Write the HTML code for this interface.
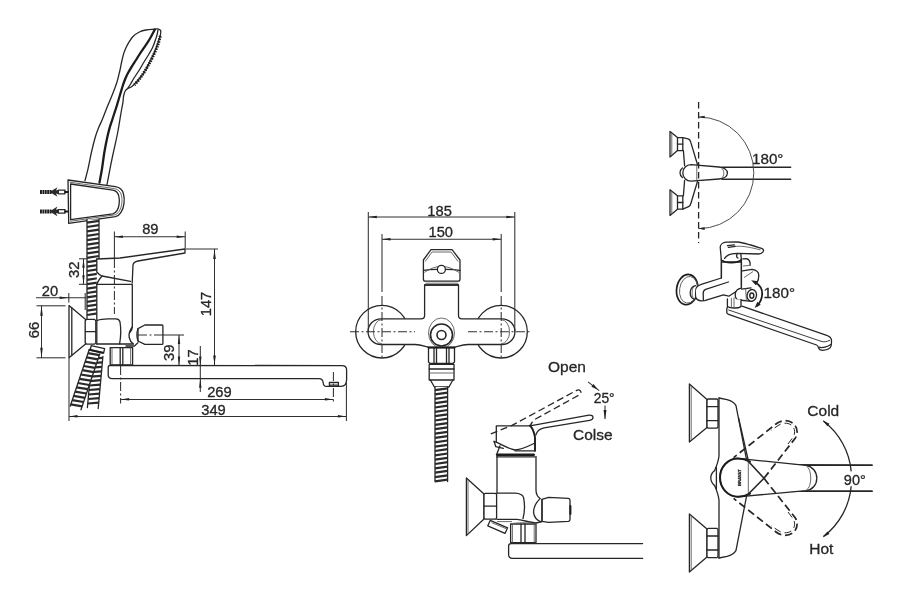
<!DOCTYPE html>
<html><head><meta charset="utf-8"><title>Faucet dimensions</title>
<style>
html,body{margin:0;padding:0;background:#fff;}
body{width:899px;height:600px;overflow:hidden;}
svg{display:block;filter:blur(0.45px);}
.l{fill:none;stroke:#262626;stroke-width:1.3;stroke-linecap:round;stroke-linejoin:round;}
.lw{fill:#fff;stroke:#262626;stroke-width:1.3;stroke-linecap:round;stroke-linejoin:round;}
.k{fill:none;stroke:#1c1c1c;stroke-width:2;stroke-linecap:round;stroke-linejoin:round;}
.t{fill:none;stroke:#303030;stroke-width:1.05;}
.g{fill:none;stroke:#5a5a5a;stroke-width:0.9;}
.d{fill:none;stroke:#303030;stroke-width:1.05;stroke-dasharray:9 2.5 2 2.5;}
.ds{fill:none;stroke:#262626;stroke-width:1.3;stroke-dasharray:6.5 3.5;}
.af{fill:#222;stroke:none;}
.fill{fill:#2a2a2a;stroke:none;}
text{font-family:"Liberation Sans",sans-serif;fill:#262626;stroke:#262626;stroke-width:0.3px;}
</style></head><body>
<svg width="899" height="600" viewBox="0 0 899 600">
<rect x="0" y="0" width="899" height="600" fill="#ffffff"/>
<g id="side-view">
<path class="l" d="M153.0,29.3 C151.8,29.4 148.3,29.6 146.0,30.0 C143.7,30.4 141.6,30.9 139.4,32.0 C137.2,33.1 134.8,34.7 133.0,36.5 C131.2,38.3 130.0,40.6 128.7,42.7 C127.4,44.8 126.3,47.0 125.4,49.0 C124.5,51.0 124.0,52.5 123.4,54.7 C122.8,56.9 122.2,59.5 121.6,62.0 C121.0,64.5 120.8,66.7 120.0,70.0 C119.2,73.3 118.2,78.2 117.0,82.0 C115.8,85.8 114.5,89.2 113.0,93.0 C111.5,96.8 109.8,100.7 108.0,105.0 C106.2,109.3 104.1,115.2 102.5,119.0 C100.9,122.8 99.7,125.0 98.5,128.0 C97.3,130.9 96.6,132.7 95.4,136.7 C94.2,140.7 92.7,146.7 91.5,152.0 C90.3,157.3 89.1,164.1 88.0,168.8 C86.9,173.6 85.5,178.6 85.0,180.5"/>
<path class="l" d="M153.0,29.3 C153.8,29.2 156.2,28.7 157.5,28.9 C158.8,29.1 160.1,29.4 160.6,30.4 C161.1,31.4 160.8,33.0 160.4,35.0 C160.0,37.0 159.0,39.9 158.0,42.7 C157.0,45.5 155.8,48.9 154.5,52.0 C153.2,55.1 151.6,58.2 150.0,61.4 C148.4,64.6 146.8,68.1 145.0,71.0 C143.2,73.9 140.9,76.8 139.4,78.7 C137.9,80.6 137.3,81.1 136.0,82.4 C134.7,83.8 133.0,85.8 131.6,86.8 C130.2,87.8 128.7,87.9 127.6,88.6 C126.5,89.3 125.9,89.8 125.2,91.0 C124.5,92.2 124.0,94.2 123.6,96.0 C123.2,97.8 123.3,99.7 123.0,102.0 C122.7,104.3 122.0,107.2 121.5,110.0 C121.0,112.8 120.6,115.3 120.0,119.0 C119.4,122.7 118.6,127.9 117.8,132.0 C117.0,136.1 116.3,139.4 115.4,143.4 C114.5,147.4 113.5,151.8 112.6,156.0 C111.7,160.2 110.9,164.1 110.0,168.8 C109.1,173.6 107.5,181.9 107.0,184.5"/>
<path class="l" d="M158.0,30.0 C157.8,30.8 157.4,33.3 157.0,35.0 C156.6,36.7 156.1,37.9 155.4,40.0 C154.7,42.1 153.7,45.2 152.6,47.5 C151.5,49.8 150.4,51.6 149.0,54.0 C147.6,56.4 145.7,59.2 144.0,62.0 C142.3,64.8 140.7,67.8 139.0,70.5 C137.3,73.2 135.4,75.8 134.0,78.0 C132.6,80.2 131.6,82.3 130.6,84.0 C129.6,85.7 128.3,87.5 127.8,88.2"/>
<path class="k" d="M160.4,36.0 C160.0,37.4 159.0,41.5 158.0,44.4 C157.0,47.3 155.6,50.6 154.2,53.6 C152.8,56.6 151.4,59.7 149.8,62.6 C148.2,65.5 146.5,68.5 144.8,71.2 C143.1,73.9 141.5,76.3 139.8,78.6 C138.1,80.9 135.3,83.9 134.4,85.0" style="stroke-dasharray:1.5 1.1;stroke-width:3;stroke-linecap:butt"/>
<path class="k" d="M154.8,29.6 C154.0,31.1 151.7,35.6 150.0,38.5 C148.3,41.4 146.5,44.2 144.8,46.7 C143.1,49.2 141.5,51.4 140.0,53.6 C138.5,55.8 137.4,57.8 136.0,60.0 C134.6,62.2 132.9,64.6 131.6,66.8 C130.3,69.0 129.1,71.0 128.0,73.0 C126.9,75.0 126.0,77.0 125.2,79.0 C124.4,81.0 123.9,82.3 123.0,85.0 C122.1,87.7 121.0,91.7 120.0,95.0 C119.0,98.3 118.2,101.0 117.0,105.0 C115.8,109.0 113.7,115.2 112.5,119.0 C111.3,122.8 110.4,125.0 109.6,128.0 C108.8,130.9 108.3,132.7 107.4,136.7 C106.5,140.7 105.3,146.7 104.4,152.0 C103.5,157.3 102.8,163.7 102.0,168.8 C101.2,173.9 99.9,180.2 99.5,182.5" style="stroke-width:2.3"/>
<path class="lw" d="M68,180 L115.4,186.7 C119.5,187.4 122.6,190 123.5,194 C124.3,197 124.4,200.5 124,203.4 C123.6,207 122.6,210.3 120.8,212.7 C119.5,214.8 117.5,216.2 115.4,216.7 L68.7,223.4 Z"/>
<path class="g" d="M69.6,182.2 L114.4,188.6 C118,189.2 120.6,191.6 121.4,195.2 C122,198 122.2,200.8 121.8,203.4 C121.4,206.6 120.5,209.4 119,211.5 C117.9,213.3 116.2,214.5 114.4,214.9 L70,221.3"/>
<path class="l" d="M70.6,184 L112.8,190.2 C116,190.8 118.3,193 118.9,196.7 C119.4,199 119.4,201.5 119.2,203.6 C118.9,206.3 118.2,208.8 117,210.6 C116,212.2 114.5,213.3 112.8,213.8 L70.6,219.6 Z"/>
<path class="k" d="M40,192 L52,192" style="stroke-width:4;stroke-dasharray:1.9 0.5;stroke-linecap:butt"/>
<polygon class="fill" points="49.6,192 57.4,187.2 56,190.4 59,189.6 59,194.4 56,193.6 57.4,196.8"/>
<path class="l" d="M59,190.2 L65,190.2 L65,193.8 L59,193.8"/>
<path class="k" d="M65,192 L68,192" style="stroke-width:2"/>
<path class="k" d="M40,211.4 L52,211.4" style="stroke-width:4;stroke-dasharray:1.9 0.5;stroke-linecap:butt"/>
<polygon class="fill" points="49.6,211.4 57.4,206.6 56,209.8 59,209.0 59,213.8 56,213.0 57.4,216.20000000000002"/>
<path class="l" d="M59,209.6 L65,209.6 L65,213.20000000000002 L59,213.20000000000002"/>
<path class="k" d="M65,211.4 L68,211.4" style="stroke-width:2"/>
<polygon fill="#fff" stroke="none" points="87.0,219.5 87.0,318.5 99.0,318.5 99.0,219.5"/>
<line class="l" x1="87.0" y1="219.5" x2="87.0" y2="318.5"/>
<line class="l" x1="99.0" y1="219.5" x2="99.0" y2="318.5"/>
<path d="M87.0,222.6L99.0,220.8M87.0,227.0L99.0,225.2M87.0,231.4L99.0,229.6M87.0,235.8L99.0,234.0M87.0,240.2L99.0,238.4M87.0,244.6L99.0,242.8M87.0,249.0L99.0,247.2M87.0,253.4L99.0,251.6M87.0,257.8L99.0,256.0M87.0,262.2L99.0,260.4M87.0,266.6L99.0,264.8M87.0,271.0L99.0,269.2M87.0,275.4L99.0,273.6M87.0,279.8L99.0,278.0M87.0,284.2L99.0,282.4M87.0,288.6L99.0,286.8M87.0,293.0L99.0,291.2M87.0,297.4L99.0,295.6M87.0,301.8L99.0,300.0M87.0,306.2L99.0,304.4M87.0,310.6L99.0,308.8M87.0,315.0L99.0,313.2" fill="none" stroke="#2a2a2a" stroke-width="2.2"/>
<polygon fill="#fff" stroke="none" points="92.1,355.5 87.4,407.5 98.2,408.5 102.9,356.5"/>
<line class="l" x1="92.1" y1="355.5" x2="87.4" y2="407.5"/>
<line class="l" x1="102.9" y1="356.5" x2="98.2" y2="408.5"/>
<path d="M91.8,358.7L102.8,357.8M91.4,363.1L102.4,362.3M91.0,367.6L101.9,366.8M90.6,372.1L101.5,371.3M90.2,376.6L101.1,375.8M89.8,381.1L100.7,380.2M89.4,385.5L100.3,384.7M89.0,390.0L99.9,389.2M88.6,394.5L99.5,393.7M88.2,399.0L99.1,398.2M87.8,403.5L98.7,402.6" fill="none" stroke="#2a2a2a" stroke-width="2.2"/>
<polygon fill="#fff" stroke="none" points="89.0,350.2 70.2,406.2 81.0,409.8 99.8,353.8"/>
<line class="l" x1="89.0" y1="350.2" x2="70.2" y2="406.2"/>
<line class="l" x1="99.8" y1="353.8" x2="81.0" y2="409.8"/>
<path d="M88.0,353.2L99.4,355.1M86.6,357.4L97.9,359.4M85.1,361.7L96.5,363.6M83.7,366.0L95.1,367.9M82.3,370.2L93.6,372.2M80.8,374.5L92.2,376.4M79.4,378.8L90.8,380.7M78.0,383.0L89.3,385.0M76.5,387.3L87.9,389.2M75.1,391.6L86.5,393.5M73.7,395.8L85.1,397.8M72.2,400.1L83.6,402.0M70.8,404.4L82.2,406.3" fill="none" stroke="#2a2a2a" stroke-width="2.2"/>
<path class="lw" d="M91.2,345.6 L104.6,348.6 L103.6,353 L90.2,350 Z"/>
<path class="k" d="M89.4,349.8 L102.8,352.8"/>
<path class="lw" d="M69,305.6 L69,357.8 L85.6,344 L85.6,319.5 Z"/>
<line class="l" x1="71.8" y1="307.8" x2="71.8" y2="355.6"/>
<path class="lw" d="M86.6,319.4 L94.6,319.4 L95.8,320.8 L95.8,342.8 L94.6,344.2 L86.6,344.2 L85.2,342.8 L85.2,320.8 Z"/>
<line class="l" x1="85.4" y1="331.6" x2="95.8" y2="331.6"/>
<path d="M96.8,258.8 L120,258 L185,249 L185,253 L138,261 L133,265 L132.6,344 L96.8,344 Z" fill="#fff" stroke="none"/>
<path class="l" d="M96.8,259 L120,258 L185,249 L185,253 L138,261 C135,261.6 133.2,263 133,265 L132.2,283"/>
<path class="l" d="M96.8,259 L96.8,272 C98.5,274 100.5,275.5 102,276 L130.5,281.4"/>
<path class="l" d="M102,276 C99.5,279 97.6,281.5 96.8,284.4 L131.5,284.4"/>
<path class="l" d="M96.8,284.4 L96.8,344"/>
<path class="l" d="M132.3,284.4 L132.3,327 C132.3,329 131.5,330.5 130.2,332"/>
<path class="l" d="M97.4,320.4 C100,319.2 104,318.8 108,318.8 L116,318.8 C118.4,319 119.6,320 120,322 C121,328 121,336 119.6,343.8"/>
<path class="l" d="M96.8,344 L133,344"/>
<path class="l" d="M126,346 L134.5,346 L138,342.6"/>
<path class="l" d="M132.3,327 C129.6,330.5 128.6,334 129.2,337.5 C129.8,340.5 131.4,342.6 133.4,344"/>
<path class="lw" d="M138,328.6 L144.8,325 L162,325 C162.6,325 162.9,325.4 162.9,326 L162.9,343.4 C162.9,344 162.6,344.4 162,344.4 L144.8,344.4 L138,341 Z"/>
<path class="l" d="M138,328.6 C136.8,332 136.8,337.6 138,341"/>
<path class="lw" d="M110.2,347.6 L132.6,347.6 L132.6,364.8 L110.2,364.8 Z"/>
<line class="l" x1="120.2" y1="347.6" x2="120.2" y2="364.8"/>
<line class="l" x1="122.8" y1="347.6" x2="122.8" y2="364.8"/>
<line class="g" x1="130.6" y1="347.6" x2="130.6" y2="364.8"/>
<line class="g" x1="112" y1="347.6" x2="112" y2="364.8"/>
<path class="lw" d="M110,365.4 L342,365.6 C345,365.6 346.6,367.2 346.6,370 L346.6,379.5 C346.6,383.5 344.6,386.4 341,386.4 L326.4,386.4 C324.4,386.4 323.4,385 323.2,383 C323,380.6 321.6,378.7 319,378.7 L112,378.6 C109.4,378.6 108.2,377.2 108.2,374.8 L108.2,367.6 C108.2,366 108.8,365.4 110,365.4 Z"/>
<path class="l" d="M329.4,382.4 L338.4,382.4 L338.4,385.8 L329.4,385.8 Z"/>
<line class="g" x1="329.4" y1="384.2" x2="338.4" y2="384.2"/>
<line class="t" x1="114.4" y1="231.5" x2="114.4" y2="259"/>
<line class="d" x1="114.4" y1="259" x2="114.4" y2="314"/>
<line class="t" x1="185.2" y1="231.5" x2="185.2" y2="248.5"/>
<line class="t" x1="114.4" y1="236.7" x2="185.2" y2="236.7"/>
<polygon class="af" points="114.4,236.7 122.9,235.4 122.9,237.9"/>
<polygon class="af" points="185.2,236.7 176.7,237.9 176.7,235.4"/>
<text x="150.3" y="233.8" font-size="14.7" text-anchor="middle">89</text>
<line class="t" x1="79" y1="258.8" x2="87" y2="258.8"/>
<line class="t" x1="79" y1="284.3" x2="87" y2="284.3"/>
<line class="t" x1="83.5" y1="258.8" x2="83.5" y2="284.3"/>
<polygon class="af" points="83.5,258.8 84.7,267.8 82.3,267.8"/>
<polygon class="af" points="83.5,284.3 82.3,275.3 84.7,275.3"/>
<text x="79.5" y="269.8" font-size="14.7" text-anchor="middle" transform="rotate(-90 79.5 269.8)">32</text>
<line class="t" x1="36" y1="297.8" x2="86" y2="297.8"/>
<polygon class="af" points="68.6,297.8 59.6,299.0 59.6,296.6"/>
<line class="t" x1="68.8" y1="293" x2="68.8" y2="302.5"/>
<line class="t" x1="85.2" y1="293" x2="85.2" y2="310"/>
<text x="50" y="296" font-size="14.7" text-anchor="middle">20</text>
<line class="t" x1="36.5" y1="305.8" x2="65.5" y2="305.8"/>
<line class="t" x1="36.5" y1="357.8" x2="65.5" y2="357.8"/>
<line class="t" x1="41.5" y1="305.8" x2="41.5" y2="357.8"/>
<polygon class="af" points="41.5,305.8 42.8,315.8 40.2,315.8"/>
<polygon class="af" points="41.5,357.8 40.2,347.8 42.8,347.8"/>
<text x="39" y="330" font-size="14.7" text-anchor="middle" transform="rotate(-90 39 330)">66</text>
<line class="t" x1="185.5" y1="249" x2="218" y2="249"/>
<line class="t" x1="214.5" y1="249" x2="214.5" y2="365.4"/>
<polygon class="af" points="214.5,249.0 215.8,259.0 213.2,259.0"/>
<polygon class="af" points="214.5,365.4 213.2,355.4 215.8,355.4"/>
<text x="211" y="304" font-size="14.7" text-anchor="middle" transform="rotate(-90 211 304)">147</text>
<line class="d" x1="138" y1="335" x2="163" y2="335"/>
<line class="t" x1="163" y1="335" x2="184" y2="335"/>
<line class="t" x1="179" y1="335" x2="179" y2="365.4"/>
<polygon class="af" points="179.0,335.0 180.2,344.0 177.8,344.0"/>
<polygon class="af" points="179.0,365.4 177.8,356.4 180.2,356.4"/>
<text x="174" y="352.8" font-size="14.7" text-anchor="middle" transform="rotate(-90 174 352.8)">39</text>
<line class="t" x1="200.3" y1="346" x2="200.3" y2="392"/>
<polygon class="af" points="200.3,365.4 199.1,356.4 201.5,356.4"/>
<polygon class="af" points="200.3,378.8 201.5,387.8 199.1,387.8"/>
<text x="198" y="357.5" font-size="14.7" text-anchor="middle" transform="rotate(-90 198 357.5)">17</text>
<line class="d" x1="120.6" y1="366" x2="120.6" y2="403.5"/>
<line class="d" x1="333.4" y1="372" x2="333.4" y2="403.5"/>
<line class="t" x1="120.6" y1="399.4" x2="333.4" y2="399.4"/>
<polygon class="af" points="120.6,399.4 129.1,398.1 129.1,400.6"/>
<polygon class="af" points="333.4,399.4 324.9,400.6 324.9,398.1"/>
<text x="219.4" y="397" font-size="14.7" text-anchor="middle">269</text>
<line class="t" x1="69" y1="358" x2="69" y2="421"/>
<line class="t" x1="346.4" y1="383" x2="346.4" y2="421"/>
<line class="t" x1="69" y1="416.4" x2="346.4" y2="416.4"/>
<polygon class="af" points="69.0,416.4 77.5,415.1 77.5,417.6"/>
<polygon class="af" points="346.4,416.4 337.9,417.6 337.9,415.1"/>
<text x="213.5" y="415" font-size="14.7" text-anchor="middle">349</text>
</g>
<g id="front-view">
<circle class="l" cx="382" cy="331.7" r="26.3"/>
<circle class="l" cx="501" cy="331.7" r="26.3"/>
<path class="lw" d="M424.6,285 L424.6,315.4 C424.6,317.6 423.4,318.8 421,318.8 L380.9,318.8 A12.85,12.85 0 0 0 380.9,344.5 L415,344.5 C421,344.7 425,346.4 430,347.4 L453,347.4 C458,346.4 462,344.7 468,344.5 L502.1,344.5 A12.85,12.85 0 0 0 502.1,318.8 L462,318.8 C459.6,318.8 458.5,317.6 458.5,315.4 L458.5,285 Z"/>
<path class="g" d="M382,319.6 A8.6,12.1 0 0 0 382,343.8"/>
<path class="g" d="M501,319.6 A8.6,12.1 0 0 1 501,343.8"/>
<path class="lw" d="M423.4,260 L431,249.6 L452,249.6 L460,260 L460,279 C460,280.4 459.2,281.2 458,281.2 L425.4,281.2 C424.2,281.2 423.4,280.4 423.4,279 Z"/>
<path class="g" d="M425.2,261.6 L432,252 L451,252 L458.2,261.6"/>
<line class="l" x1="424.6" y1="285" x2="458.5" y2="285"/>
<line class="g" x1="425.4" y1="283.2" x2="458.2" y2="283.2"/>
<path class="l" d="M423.4,270.4 C428,269.6 433,269.4 437.2,269.4 M445.6,269.4 C450,269.4 455,269.6 460,270.4"/>
<path class="g" d="M424.4,272.4 C430,268.5 436,266.4 441.4,266.2 C447,266.4 453,268.5 459,272.4"/>
<circle class="lw" cx="441.4" cy="269.4" r="4"/>
<ellipse class="g" cx="441.5" cy="333" rx="13" ry="15"/>
<circle class="lw" cx="441.5" cy="335" r="11" style="stroke-width:1.6"/>
<circle class="l" cx="441.5" cy="335" r="4.5" style="stroke-width:1.6"/>
<path class="lw" d="M428.5,347.6 L454.5,347.6 L454.5,362 L453,363.4 L430,363.4 L428.5,362 Z"/>
<line class="l" x1="434" y1="347.6" x2="434" y2="363.4"/>
<line class="l" x1="436.5" y1="347.6" x2="436.5" y2="363.4"/>
<line class="l" x1="446.5" y1="347.6" x2="446.5" y2="363.4"/>
<line class="l" x1="449" y1="347.6" x2="449" y2="363.4"/>
<line class="k" x1="428.5" y1="347.6" x2="454.5" y2="347.6"/>
<path class="lw" d="M429.2,364.4 L454,364.4 L454,380 L429.2,380 Z"/>
<line class="l" x1="429.2" y1="369" x2="454" y2="369"/>
<line class="g" x1="429.2" y1="373" x2="454" y2="373"/>
<path class="l" d="M430.4,380 L434.4,387 L449,387 L452.8,380"/>
<polygon fill="#fff" stroke="none" points="435.0,387.0 435.0,481.5 447.6,481.5 447.6,387.0"/>
<line class="l" x1="435.0" y1="387.0" x2="435.0" y2="481.5"/>
<line class="l" x1="447.6" y1="387.0" x2="447.6" y2="481.5"/>
<path d="M435.0,390.1L447.6,388.3M435.0,394.4L447.6,392.6M435.0,398.8L447.6,397.0M435.0,403.1L447.6,401.3M435.0,407.5L447.6,405.7M435.0,411.8L447.6,410.0M435.0,416.2L447.6,414.4M435.0,420.5L447.6,418.7M435.0,424.9L447.6,423.1M435.0,429.2L447.6,427.4M435.0,433.6L447.6,431.8M435.0,437.9L447.6,436.1M435.0,442.3L447.6,440.5M435.0,446.6L447.6,444.8M435.0,451.0L447.6,449.2M435.0,455.3L447.6,453.5M435.0,459.7L447.6,457.9M435.0,464.0L447.6,462.2M435.0,468.4L447.6,466.6M435.0,472.7L447.6,470.9M435.0,477.1L447.6,475.3M435.0,481.4L447.6,479.6" fill="none" stroke="#2a2a2a" stroke-width="2.2"/>
<line class="d" x1="350" y1="331.7" x2="415" y2="331.7"/>
<line class="d" x1="468" y1="331.7" x2="531" y2="331.7"/>
<line class="d" x1="382" y1="296" x2="382" y2="358"/>
<line class="d" x1="501.2" y1="296" x2="501.2" y2="358"/>
<line class="t" x1="368.3" y1="212" x2="368.3" y2="332"/>
<line class="t" x1="514.8" y1="212" x2="514.8" y2="332"/>
<line class="t" x1="368.3" y1="217" x2="514.8" y2="217"/>
<polygon class="af" points="368.3,217.0 376.8,215.8 376.8,218.2"/>
<polygon class="af" points="514.8,217.0 506.3,218.2 506.3,215.8"/>
<text x="439.6" y="215.6" font-size="14.7" text-anchor="middle">185</text>
<line class="t" x1="382" y1="234" x2="382" y2="292"/>
<line class="t" x1="501.2" y1="234" x2="501.2" y2="292"/>
<line class="t" x1="382" y1="239.2" x2="501.2" y2="239.2"/>
<polygon class="af" points="382.0,239.2 390.5,237.9 390.5,240.4"/>
<polygon class="af" points="501.2,239.2 492.7,240.4 492.7,237.9"/>
<text x="440.8" y="237.4" font-size="14.7" text-anchor="middle">150</text>
</g>
<g id="open-close">
<path class="l" d="M466.4,478 L466.4,535.6 L484,519 L484,494 Z"/>
<line class="g" x1="468" y1="479.6" x2="468" y2="534"/>
<path class="lw" d="M485,493.4 L495.6,493.4 L496.6,494.6 L496.6,518 L495.6,519.2 L485,519.2 L484,518 L484,494.6 Z"/>
<line class="l" x1="484" y1="506.2" x2="496.6" y2="506.2"/>
<path class="lw" d="M490.2,520.4 L507.6,527.8 L505,533.4 L487.8,525.8 Z"/>
<path class="g" d="M491.6,522.6 L506.4,528.8"/>
<line class="l" x1="497" y1="456.4" x2="497" y2="493.4"/>
<path class="l" d="M536,456.4 L536,490 C536,494 537.4,496.6 540,498.6"/>
<path class="l" d="M497,493.2 L515,493.2 C519.6,493.4 522.6,494.6 523.6,497.6 C524.8,503.6 524.8,511.6 523,518.6"/>
<path class="l" d="M497,519.4 L517,519.4 C522,520 530,522.4 536,523 L542,521.6"/>
<path class="g" d="M497,521.6 L512,521.6"/>
<path class="l" d="M540,498.6 C535.6,503 533.4,508 533.6,512.6 C534,516.6 536.6,520 541,521.8"/>
<path class="l" d="M542,499.4 L548.6,497.4 L568.4,498.4 C569.6,498.6 570,499.2 570,500.2 L570,519.6 C570,520.8 569.6,521.2 568.4,521.4 L548.6,522.4 L542,521.4 Z"/>
<line class="l" x1="542" y1="499.4" x2="542" y2="521.4"/>
<path class="k" d="M570.4,506 L570.4,514"/>
<line class="k" x1="497" y1="454.8" x2="533.8" y2="454.8" style="stroke-width:2.4"/>
<line class="l" x1="496.8" y1="456.8" x2="535" y2="456.8"/>
<path class="l" d="M496.3,441.7 L496.3,425.8 L530,425.8"/>
<path class="k" d="M530,425.4 C532.6,428.6 534.4,432.6 535,437.5 L535,450.8" style="stroke-width:1.9"/>
<path class="l" d="M494,441.3 C499,442.6 507,448.6 515,450 C522,449.6 529,446 535,443"/>
<path class="l" d="M494,441.3 L495.8,446.7 L503.3,448.3"/>
<path class="l" d="M500,445.8 L497,453.6"/>
<line class="l" x1="515" y1="450.8" x2="535" y2="450.8"/>
<path class="l" d="M530,425.8 L589,415.2 C591.8,415 593,415.9 593,417.4 C593,418.9 592,419.9 589.6,420.3 L544,427.8 C540,428.6 537,431 535.8,435"/>
<path class="ds" d="M490.8,433.9 L512,425.4 L576.6,390.4 C578.8,389.4 580.4,390 580.8,391.6 C581.2,393 580.4,394.4 578.4,395.4 L536,418.8 C533,420.6 531,423 530.4,426.4" style="stroke-dasharray:7 3.6"/>
<text x="567" y="372" font-size="15.5" text-anchor="middle">Open</text>
<text x="604.2" y="402.6" font-size="13.8" text-anchor="middle">25°</text>
<text x="592.8" y="440" font-size="15.5" text-anchor="middle">Colse</text>
<path class="t" d="M588,381.8 L599.2,390.6"/>
<polygon class="af" points="598.0,389.7 591.4,386.7 593.5,384.1"/>
<line class="t" x1="605" y1="405.5" x2="605" y2="419"/>
<polygon class="af" points="605.0,419.4 603.5,409.9 606.5,409.9"/>
<path class="lw" d="M510.6,524 L536,524 L536,542.6 L510.6,542.6 Z"/>
<line class="l" x1="521" y1="524" x2="521" y2="542.6"/>
<line class="l" x1="525" y1="524" x2="525" y2="542.6"/>
<line class="g" x1="512.4" y1="524" x2="512.4" y2="542.6"/>
<line class="g" x1="534.2" y1="524" x2="534.2" y2="542.6"/>
<path class="g" d="M510.6,524 C515,522.4 531,522.4 536,524"/>
<path class="l" d="M642.6,543.6 L511,543.6 C509.4,543.6 508.6,544.4 508.6,546 L508.6,554.6 C508.6,557 509.8,558.4 512.4,558.4 L642.6,558.4"/>
</g>
<g id="swing-top">
<path class="l" d="M670,131.4 L670,157 L677.5,150.6 L677.5,137.6 Z"/>
<line class="g" x1="671.8" y1="133.0" x2="671.8" y2="155.4"/>
<path class="l" d="M677.5,137.6 L682.8,137.6 L682.8,150.6 L677.5,150.6"/>
<line class="l" x1="677.5" y1="144.1" x2="682.8" y2="144.1"/>
<path class="l" d="M670,189.8 L670,215.4 L677.5,209.2 L677.5,195.8 Z"/>
<line class="g" x1="671.8" y1="191.4" x2="671.8" y2="213.8"/>
<path class="l" d="M677.5,195.8 L682.8,195.8 L682.8,209.2 L677.5,209.2"/>
<line class="l" x1="677.5" y1="202.5" x2="682.8" y2="202.5"/>
<path class="l" d="M682.8,137.6 L688,138.8 C689.6,139.2 690.4,140.4 690.8,142.4 L697.6,165"/>
<path class="l" d="M683.4,150.6 L684.6,165.6"/>
<path class="l" d="M682.8,209.2 L688.6,206.6 C690,206 690.6,204.8 691,203 L697.6,181"/>
<path class="l" d="M683.4,195.8 L684.6,180.4"/>
<path class="l" d="M682.4,168 C680.4,169.6 680,171 680,172.8 C680,174.6 680.4,176 682.4,177.6"/>
<path class="lw" d="M691,164.6 L719,167 C724,167.4 727.4,169.8 727.4,173 C727.4,176.2 724,178.6 719,179 L691,181.2 C686.4,181.2 682.8,177.4 682.8,172.9 C682.8,168.4 686.4,164.6 691,164.6 Z"/>
<path class="g" d="M721.4,168 C724.6,169.8 724.6,176.4 721.4,178.2"/>
<line class="g" x1="696.8" y1="165.2" x2="696.8" y2="180.6"/>
<line class="l" x1="722" y1="167.3" x2="790.6" y2="167.3" style="stroke-width:1.5"/>
<line class="l" x1="722" y1="179.3" x2="790.6" y2="179.3" style="stroke-width:1.5"/>
<line class="ds" x1="698.6" y1="102" x2="698.6" y2="243"/>
<path class="t" d="M698.6,117 A55.2,55.8 0 0 1 698.6,228.6" style="stroke-width:0.95;stroke:#444"/>
<polygon class="af" points="698.2,117.0 704.7,115.7 704.7,118.3"/>
<polygon class="af" points="698.2,228.6 704.7,227.3 704.7,229.9"/>
<text x="752" y="164" font-size="15.2" text-anchor="start">180°</text>
</g>
<g id="iso-view">
<ellipse class="k" cx="687.2" cy="289.6" rx="10.6" ry="15.2" transform="rotate(8 687.2 289.6)" style="stroke-width:1.7"/>
<ellipse class="g" cx="688.6" cy="289.8" rx="9" ry="13.4" transform="rotate(8 688.6 289.8)"/>
<path class="lw" d="M721.4,278 L702,284.2 C698,285.4 695.6,287.4 695.2,290.6 L695.6,297 C696.2,299.6 698.4,300.6 701.6,300.8 L704.6,300.6 L723.4,294.8 L728.8,296.2 L741.4,288 L741.4,262 L721.4,262 Z"/>
<path class="lw" d="M695.6,285.6 C692.6,286.2 690.6,288.6 690.2,292 C690,295.6 691.4,298.4 694.4,299.2"/>
<path class="g" d="M693.4,287 C691.8,289 691.6,295.4 693,297.6"/>
<path class="l" d="M728.4,282 L705.6,289.4 C703.8,290.2 703.2,291.6 703.2,293.4 L703.4,300.4"/>
<line class="l" x1="721.4" y1="260.6" x2="721.4" y2="278"/>
<line class="l" x1="741.4" y1="260.6" x2="741.4" y2="286"/>
<path class="k" d="M721.4,259.4 C725,263.6 737,263.8 741.4,259.6" style="stroke-width:1.6"/>
<path class="lw" d="M721.4,260.6 L720.2,247 C720.4,244.4 723,242.4 726,242.2 L738,242 C742,242.2 752,245.4 761.6,248.4 C763.6,249.2 764,250.6 763,251.8 C762,253.2 760.6,254 758.6,254 L737,253.4 C733.6,253.6 730.6,254 728.6,254.8 C726.6,255.8 725.4,257 724.6,258.4"/>
<path class="l" d="M727.4,245.6 L734.4,244.8 M728.4,247.4 L735.4,246.4"/>
<path class="g" d="M735.4,246.4 C742,245.6 752,247.6 760.6,250"/>
<path class="l" d="M740.8,253.6 L741.4,260.6"/>
<path class="l" d="M737,254.4 C736.2,256 736.6,257.6 738,258"/>
<path class="l" d="M742.8,258.8 L746.8,258.6 C749.4,259.6 750.4,262.4 750,265.4"/>
<path class="l" d="M742.6,270.8 L752,269.4 C756.4,270 758.8,272.4 758.8,275.4 C758.8,278.4 758,281 756.8,283"/>
<path class="g" d="M743,266 L749.6,265.4"/>
<path class="g" d="M744,277.6 L753,271.6"/>
<path class="l" d="M741.4,289.2 L751,287.8 M738.8,300 L752,301.4"/>
<path class="lw" d="M741.4,288.2 C737.6,288.8 735.4,291.2 735.2,294.4 C735.2,297.6 736.6,299.6 739,300.2"/>
<path class="g" d="M745.6,288.4 L746.4,300.6"/>
<ellipse class="lw" cx="751.8" cy="295.4" rx="4.7" ry="5.9" transform="rotate(10 751.8 295.4)"/>
<ellipse class="l" cx="751.8" cy="295.6" rx="2" ry="2.6" style="stroke-width:1.5"/>
<path class="k" d="M754.4,282 C759.8,284.8 762.4,289 762.2,294 C762,299.2 759.6,303.2 757,305.8" style="stroke-width:1.8"/>
<polygon class="af" points="751.2,280.2 758.0,281.2 755.9,285.3"/>
<polygon class="af" points="754.6,308.0 757.4,301.7 760.7,304.8"/>
<text x="763.6" y="297.5" font-size="15.2" text-anchor="start">180°</text>
<path class="lw" d="M727.4,299 L727.4,306.4 C730,308.4 738,308.6 741,306.6 L741,299.4"/>
<path class="g" d="M731.4,298 L731.4,307.6 M734,297.4 L734,308"/>
<path class="l" d="M727.6,307.4 C727,307.6 726.8,308.2 726.8,309 L726.8,312.4 C726.8,313.4 727.4,314 728.6,314.4 L816.6,345 C817.6,345.4 818.2,346.4 818.6,348 C819.4,349.8 821.4,350.6 824,350.2 C827.4,349.8 829.8,348.6 830.6,347 C831.4,345.4 831.6,342 831.4,339.6 C831,337.4 829,336.2 826,335.2 L742,306.2"/>
<path class="l" d="M728.6,310 L822,341.6 C824.4,342.2 827,341.6 829.6,340.4" style="stroke-width:0.9"/>
<path class="l" d="M819.4,347.2 C822,348.2 828,346.8 830.8,344.6"/>
</g>
<g id="hot-cold">
<path class="l" d="M689.4,384 L689.4,442 L707,427.6 L707,399.6 Z"/>
<line class="g" x1="691.2" y1="385.6" x2="691.2" y2="440.4"/>
<path class="lw" d="M708,399.0 L717,399.0 L718,400.20000000000005 L718,427.0 L717,428.20000000000005 L708,428.20000000000005 L707,427.0 L707,400.20000000000005 Z"/>
<line class="l" x1="707" y1="406.6" x2="718" y2="406.6"/>
<line class="l" x1="707" y1="420.6" x2="718" y2="420.6"/>
<path class="l" d="M689.4,514 L689.4,572 L707,557 L707,529 Z"/>
<line class="g" x1="691.2" y1="515.6" x2="691.2" y2="570.4"/>
<path class="lw" d="M708,528.4 L717,528.4 L718,529.6 L718,556.4 L717,557.6 L708,557.6 L707,556.4 L707,529.6 Z"/>
<line class="l" x1="707" y1="536" x2="718" y2="536"/>
<line class="l" x1="707" y1="550" x2="718" y2="550"/>
<path class="l" d="M719,398 L727,399.6 C731,400.6 734.4,402.6 736,405.6 L746.4,459"/>
<path class="l" d="M719,398 L719,456 C718.4,461 716.6,466 714.6,470.6"/>
<path class="l" d="M738.6,418 L748.4,461"/>
<path class="l" d="M719,558 L727,556.4 C731,555.4 734.4,553.4 736,550.4 L746.4,497"/>
<path class="l" d="M719,558 L719,500 C718.4,495 716.6,490 714.6,485.4"/>
<path class="l" d="M714.6,470.6 C711.6,473 710.8,476 710.8,478 C710.8,480 711.6,483 714.6,485.4"/>
<path class="l" d="M716.4,467 L716.4,489"/>
<line class="l" x1="782" y1="465" x2="872" y2="465.2" style="stroke-width:1.8"/>
<line class="l" x1="782" y1="491.2" x2="872" y2="491.2" style="stroke-width:1.8"/>
<path class="lw" d="M738,458.4 C728,458.4 720,467 720,477.6 C720,488.2 728,496.8 738,496.8 L806,490.6 C812.6,489.8 816.8,484.6 816.8,478.2 C816.8,471.8 812.6,466.4 806,465.4 Z"/>
<path class="k" d="M750,461.6 C746,459.4 742,458.4 738,458.4 C728,458.4 720,467 720,477.6 C720,488.2 728,496.8 738,496.8 C742,496.8 746,495.8 750,493.6" style="stroke-width:2"/>
<path class="g" d="M806.4,466 C812,469 812.4,487 806.4,490"/>
<line class="g" x1="748.3" y1="460.4" x2="748.3" y2="494.8"/>
<text x="739.4" y="479.2" font-size="4.2" font-weight="700" fill="#111" text-anchor="middle" transform="rotate(-90 739.4 477.8)">BRAVAT</text>
<path class="l" d="M746.4,496 L764,478.3 M746.4,459.2 L764,478.3" style="stroke-width:1.6"/>
<path class="ds" d="M764,478.3 L795.4,438 C798.4,432.6 797.4,426.6 792.6,423 C788,419.6 781,420 776,424 L733.6,457.6" style="stroke-width:1.7;stroke-dasharray:7.5 3.8"/>
<path class="ds" d="M764,478.3 L795.4,518 C798.4,523.4 797.4,529.4 792.6,533 C788,536.4 781,536 776,532 L733.6,498.4" style="stroke-width:1.7;stroke-dasharray:7.5 3.8"/>
<path class="ds" d="M788,444 L793.2,437 C795.6,432.6 795,428 791.2,425 C787.6,422.4 782,422.6 778,425.6 L771,430.4" style="stroke-width:1;stroke-dasharray:7 4"/>
<path class="ds" d="M788,512 L793.2,519 C795.6,523.4 795,528 791.2,531 C787.6,533.6 782,533.4 778,530.4 L771,525.6" style="stroke-width:1;stroke-dasharray:7 4"/>
<path class="t" d="M823.4,421 A71.6,71.6 0 0 1 851.2,471.4 M851.2,486.2 A71.6,71.6 0 0 1 823.4,536.6" style="stroke-width:1.3;stroke:#262626"/>
<polygon class="af" points="822.6,420.2 829.4,423.7 827.4,426.2"/>
<polygon class="af" points="822.6,537.4 827.4,531.4 829.4,533.9"/>
<text x="823.3" y="416" font-size="15.5" text-anchor="middle">Cold</text>
<text x="821.3" y="554" font-size="15.5" text-anchor="middle">Hot</text>
<text x="854.8" y="485" font-size="14.5" text-anchor="middle">90°</text>
</g>
</svg>
</body></html>
